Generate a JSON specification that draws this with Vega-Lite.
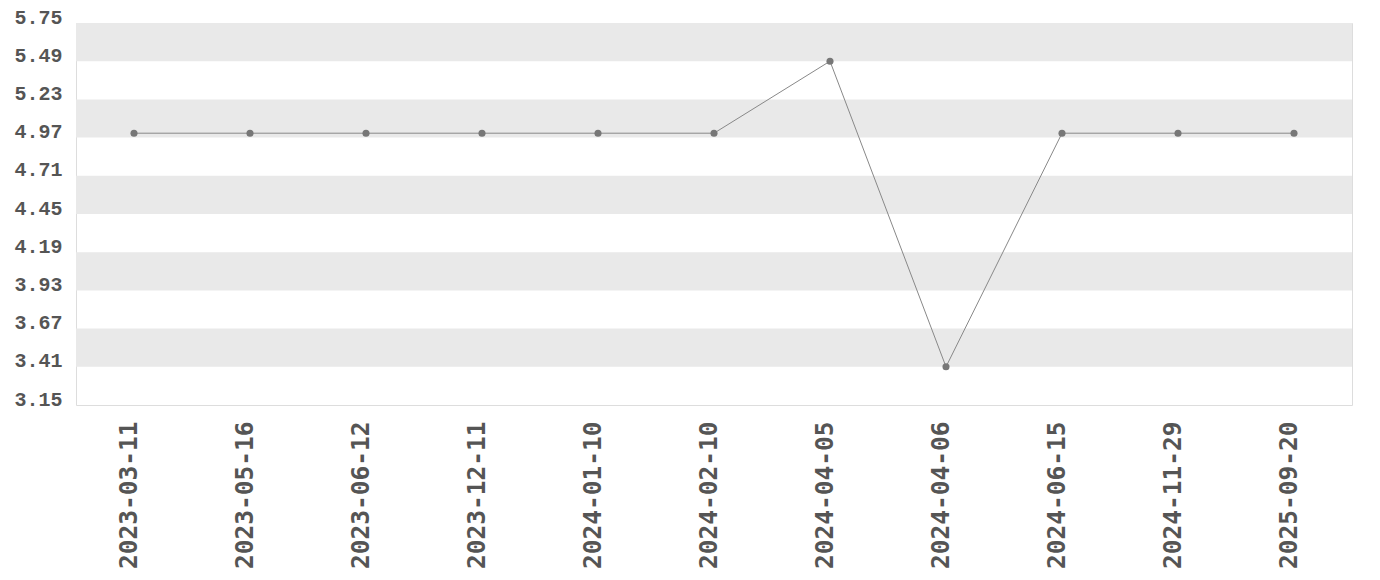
{
  "$schema": "https://vega.github.io/schema/vega-lite/v6.json",
  "autosize": "none",
  "padding": {"left": 76, "top": 23, "right": 28, "bottom": 175},
  "width": 1276,
  "height": 382,
  "background": "white",
  "config": {"view": {"stroke": "#dddddd", "strokeWidth": 1}, "axis": {"labelOverlap": false, "labelBound": false, "labelFlush": false}},
  "datasets": {
    "points": [
      {"date": "2023-03-11", "value": 5.0},
      {"date": "2023-05-16", "value": 5.0},
      {"date": "2023-06-12", "value": 5.0},
      {"date": "2023-12-11", "value": 5.0},
      {"date": "2024-01-10", "value": 5.0},
      {"date": "2024-02-10", "value": 5.0},
      {"date": "2024-04-05", "value": 5.49},
      {"date": "2024-04-06", "value": 3.41},
      {"date": "2024-06-15", "value": 5.0},
      {"date": "2024-11-29", "value": 5.0},
      {"date": "2025-09-20", "value": 5.0}
    ],
    "bands": [
      {"lo": 5.49, "hi": 5.75},
      {"lo": 4.97, "hi": 5.23},
      {"lo": 4.45, "hi": 4.71},
      {"lo": 3.93, "hi": 4.19},
      {"lo": 3.41, "hi": 3.67}
    ]
  },
  "layer": [
    {
      "data": {"name": "bands"},
      "mark": {"type": "rect", "color": "#e9e9e9"},
      "encoding": {
        "y": {"field": "lo", "type": "quantitative", "scale": {"domain": [3.15, 5.75], "nice": false, "zero": false},
          "axis": {"values": [3.15, 3.41, 3.67, 3.93, 4.19, 4.45, 4.71, 4.97, 5.23, 5.49, 5.75], "tickCount": 30, "format": ".2f", "title": null, "grid": false, "ticks": false, "domain": false, "labelOverlap": false, "labelPadding": 14, "labelBaseline": "alphabetic", "labelFont": "Liberation Mono", "labelFontWeight": "bold", "labelFontSize": 20, "labelColor": "#555555"}},
        "y2": {"field": "hi"}
      }
    },
    {
      "data": {"name": "points"},
      "mark": {"type": "line", "color": "#888888", "strokeWidth": 1},
      "encoding": {
        "x": {"field": "date", "type": "ordinal", "sort": null,
          "axis": {"title": null, "labelAngle": 270, "labelOffset": -5, "ticks": false, "domain": false, "grid": false, "labelOverlap": false, "labelPadding": 16, "labelFont": "DejaVu Sans Mono", "labelFontWeight": "bold", "labelFontSize": 24.5, "labelColor": "#555555"}},
        "y": {"field": "value", "type": "quantitative"}
      }
    },
    {
      "data": {"name": "points"},
      "mark": {"type": "point", "filled": true, "color": "#777777", "size": 50, "opacity": 1},
      "encoding": {
        "x": {"field": "date", "type": "ordinal", "sort": null},
        "y": {"field": "value", "type": "quantitative"}
      }
    }
  ]
}
